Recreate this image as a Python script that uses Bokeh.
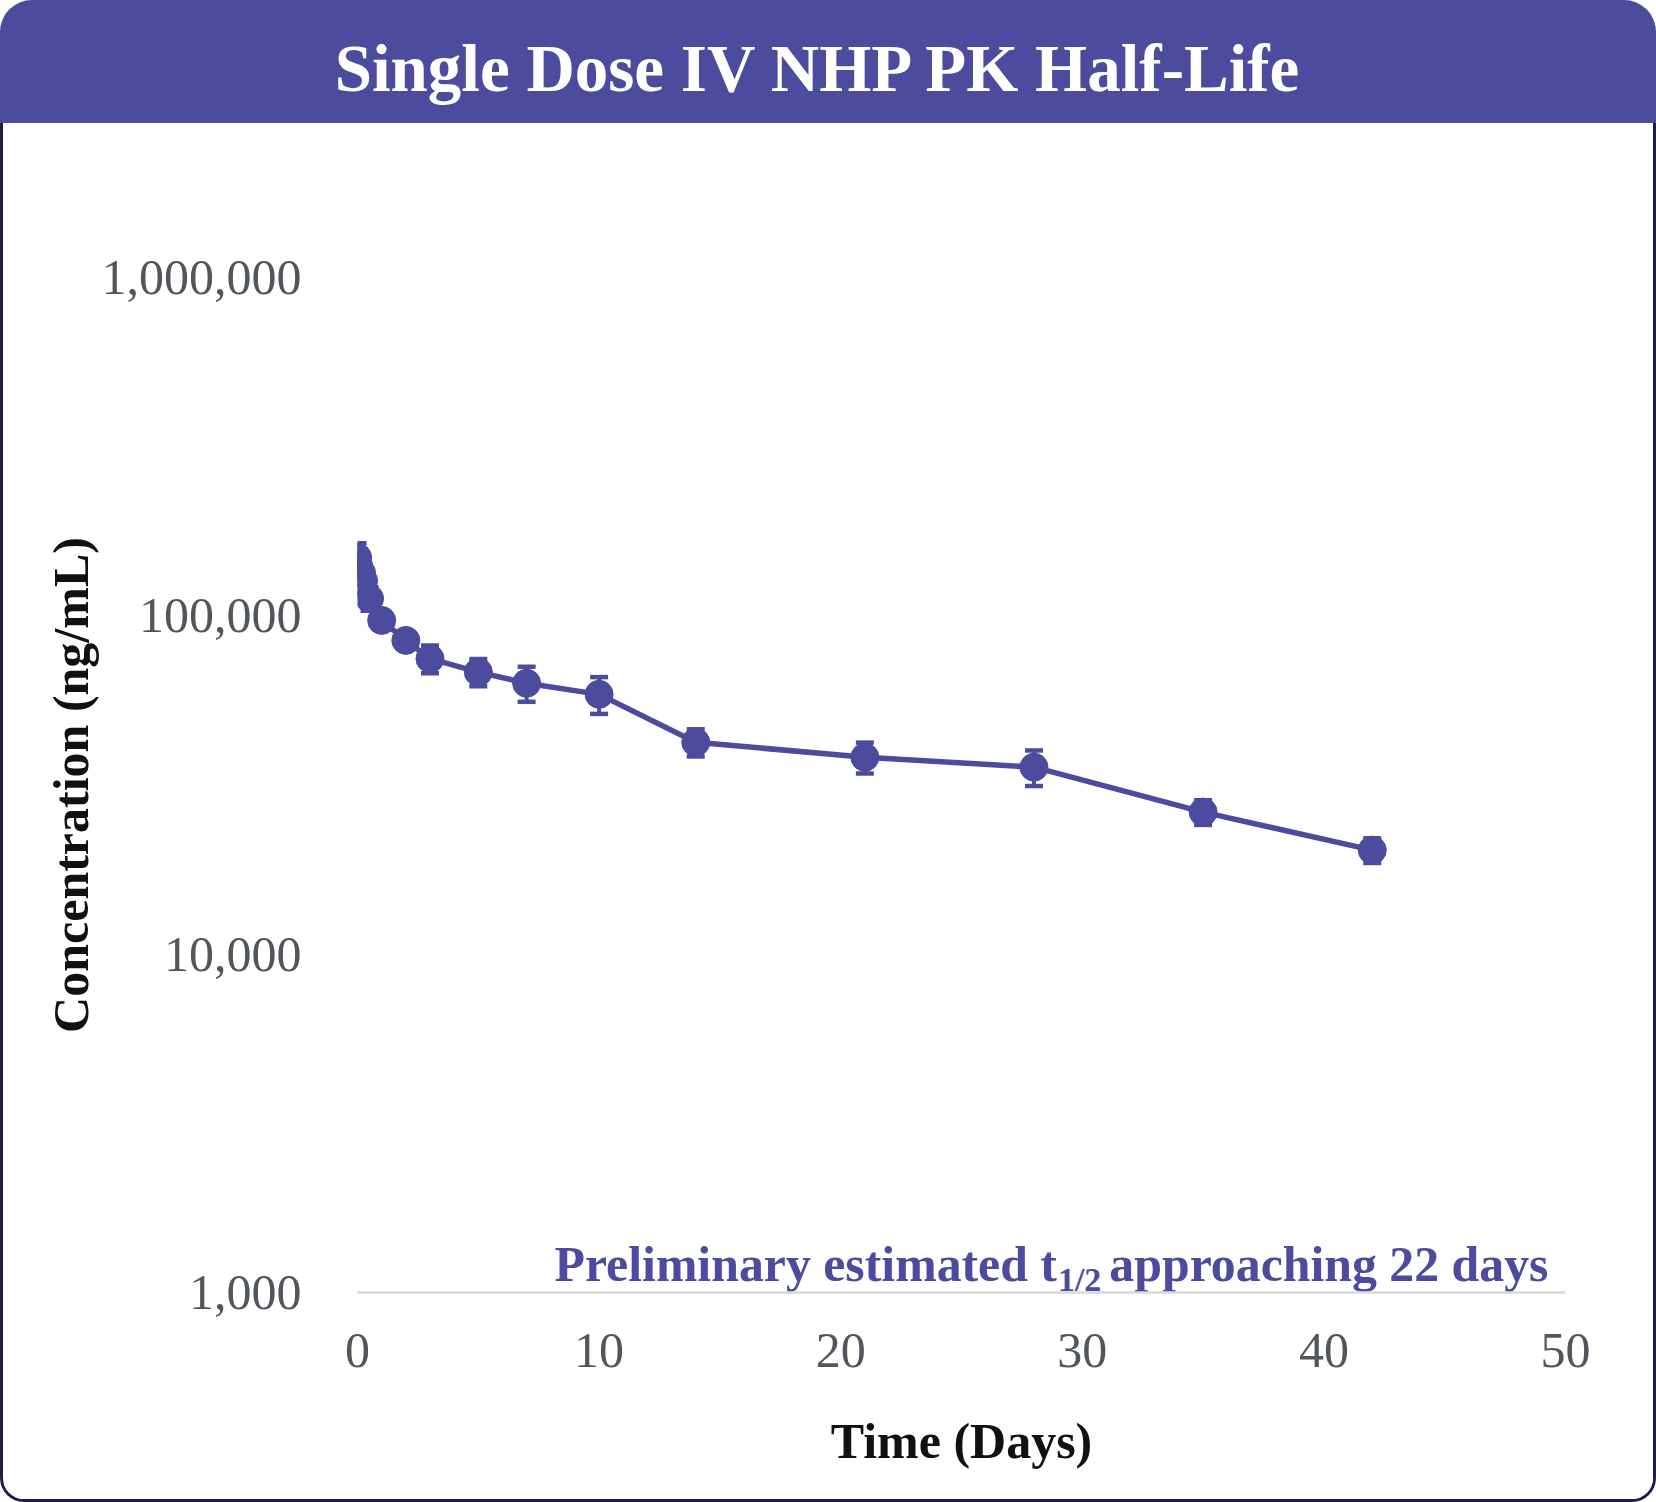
from bokeh.plotting import figure
from bokeh.layouts import column
from bokeh.models import (Range1d, FixedTicker, NumeralTickFormatter, Whisker, TeeHead,
                          ColumnDataSource, Div)
from bokeh.core.properties import value
from bokeh.embed import file_html
from bokeh.resources import INLINE

# ---------------- data ----------------
time_days = [0.0035, 0.042, 0.167, 0.25, 0.5, 1, 2, 3, 5, 7, 10, 14, 21, 28, 35, 42]
conc_mean = [148800, 141000, 134000, 127000, 112500, 96900, 84600, 74700,
             68200, 63200, 58600, 42300, 38200, 35700, 26300, 20300]
conc_sd = [15000, 12000, 11000, 12000, 9000, 6000, 4000, 7000,
           6300, 7500, 7300, 3900, 4000, 4300, 2200, 1700]
x_ticks = [0, 10, 20, 30, 40, 50]
y_ticks = [1000, 10000, 100000, 1000000]

title_text = "Single Dose IV NHP PK Half-Life"
x_title = "Time (Days)"
y_title = "Concentration (ng/mL)"
note_main = "Preliminary estimated t"
note_sub = "1/2"
note_rest = "approaching 22 days"

# ---------------- style ----------------
PURPLE = "#4c4b9d"
NAVY = "#1f1b4f"
TICK_COLOR = "#50565c"
FONT = "Liberation Serif"
BW = 3  # outer border width

# ---------------- header bar ----------------
HW, HH = 1656, 123
header_html = (
    f'<div style="width:{HW}px;height:{HH}px;box-sizing:border-box;margin:0;'
    f'padding:35px 22px 0 0;line-height:67px;text-align:center;white-space:nowrap;'
    f"font-family:'{FONT}';font-weight:bold;font-size:67px;color:white;"
    f'background:{PURPLE};border-radius:32px 32px 0 0;overflow:hidden;">'
    f'{title_text}</div>'
)
header = Div(text=header_html, width=HW, height=HH, styles={"margin": "0", "padding": "0"})

# ---------------- main plot ----------------
W, H = HW - 2 * BW, 1502 - HH - BW
L = 357 - BW
R = W - (1565 - BW) + 2 * BW
T = 277 - HH
B = H - (1292 - HH) + BW

p = figure(width=W, height=H, output_backend="svg", toolbar_location=None,
           x_range=Range1d(0, 50), y_range=Range1d(1000, 1e6), y_axis_type="log",
           min_border_left=L, min_border_right=R, min_border_top=T, min_border_bottom=B)
p.outline_line_color = None
p.xgrid.visible = False
p.ygrid.visible = False
p.background_fill_color = "white"
p.border_fill_color = "white"
p.styles = {
    "border-left": f"{BW}px solid {NAVY}",
    "border-right": f"{BW}px solid {NAVY}",
    "border-bottom": f"{BW}px solid {NAVY}",
    "border-bottom-left-radius": "24px",
    "border-bottom-right-radius": "24px",
    "box-sizing": "content-box",
    "overflow": "hidden",
}

# error bars
src = ColumnDataSource(dict(
    t=time_days, m=conc_mean,
    lo=[m - s for m, s in zip(conc_mean, conc_sd)],
    hi=[m + s for m, s in zip(conc_mean, conc_sd)],
))
wh = Whisker(source=src, base="t", upper="hi", lower="lo", dimension="height",
             line_color=PURPLE, line_width=4,
             upper_head=TeeHead(size=18, line_color=PURPLE, line_width=4.5),
             lower_head=TeeHead(size=18, line_color=PURPLE, line_width=4.5))
p.add_layout(wh)

p.line("t", "m", source=src, line_color=PURPLE, line_width=5.5)
p.scatter("t", "m", source=src, size=28, fill_color=PURPLE, line_color=PURPLE)

# axes
xa = p.xaxis[0]
xa.ticker = FixedTicker(ticks=x_ticks)
xa.axis_line_color = "#d9d9d9"
xa.axis_line_width = 2.5
xa.major_tick_line_color = None
xa.minor_tick_line_color = None
xa.major_label_text_font = FONT
xa.major_label_text_font_size = "50px"
xa.major_label_text_color = TICK_COLOR
xa.major_label_standoff = 35
xa.axis_label = x_title
xa.axis_label_text_font = FONT
xa.axis_label_text_font_style = "bold"
xa.axis_label_text_font_size = "50px"
xa.axis_label_text_color = "#111111"
xa.axis_label_standoff = 43

ya = p.yaxis[0]
ya.ticker = FixedTicker(ticks=y_ticks, minor_ticks=[])
ya.formatter = NumeralTickFormatter(format="0,0")
ya.axis_line_color = None
ya.major_tick_line_color = None
ya.minor_tick_line_color = None
ya.major_tick_out = 0
ya.major_label_text_font = FONT
ya.major_label_text_font_size = "50px"
ya.major_label_text_color = TICK_COLOR
ya.major_label_standoff = 56
ya.axis_label = y_title
ya.axis_label_text_font = FONT
ya.axis_label_text_font_style = "bold"
ya.axis_label_text_font_size = "50px"
ya.axis_label_text_color = "#111111"
ya.axis_label_standoff = 0

# annotation with subscript, anchored at the frame's bottom-left corner
main_size = 49.8
sub_size = 34
ax0 = 554 - 357
x_sub = ax0 + 10.109 * main_size
x_rest = x_sub + 1.278 * sub_size + 0.16 * main_size
x0 = [p.x_range.start]
y0 = [p.y_range.start]
p.text(x=x0, y=y0, text=[note_main], x_offset=ax0, y_offset=-28,
       text_font=value(FONT), text_font_style="bold", text_font_size=f"{main_size}px",
       text_color=PURPLE, text_align="left", text_baseline="alphabetic")
p.text(x=x0, y=y0, text=[note_sub], x_offset=x_sub, y_offset=-13,
       text_font=value(FONT), text_font_style="bold", text_font_size=f"{sub_size}px",
       text_color=PURPLE, text_align="left", text_baseline="alphabetic")
p.text(x=x0, y=y0, text=[note_rest], x_offset=x_rest, y_offset=-28,
       text_font=value(FONT), text_font_style="bold", text_font_size=f"{main_size}px",
       text_color=PURPLE, text_align="left", text_baseline="alphabetic")

layout = column(header, p)
open("out.html", "w").write(file_html(layout, INLINE))
